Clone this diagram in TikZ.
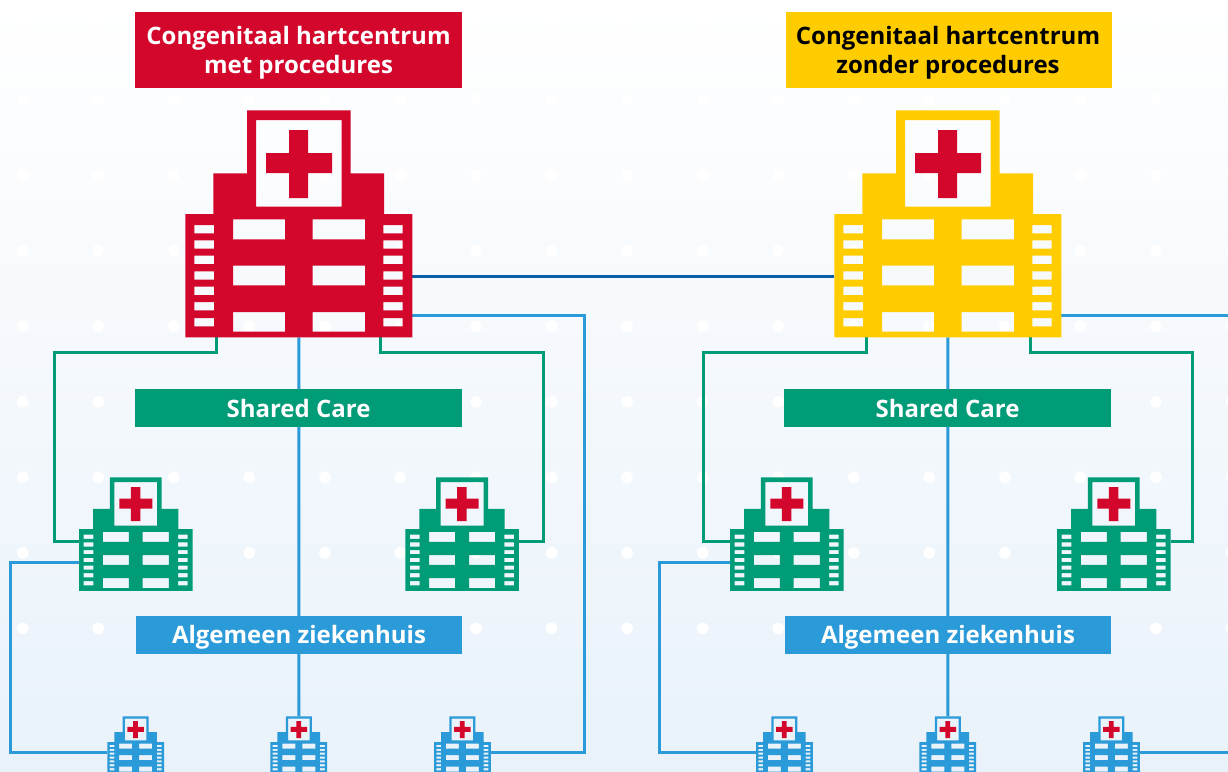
\documentclass[tikz,border=0pt]{standalone}
\usepackage{fontspec}
\setmainfont{Open Sans}
\usetikzlibrary{backgrounds}
\definecolor{cred}{HTML}{D2072B}
\definecolor{cyel}{HTML}{FFCC00}
\definecolor{cgrn}{HTML}{009B77}
\definecolor{cblu}{HTML}{2A9AD8}
\definecolor{cdrk}{HTML}{0B5EA8}
\definecolor{cbot}{HTML}{E9F2FA}
\newcommand{\dn}[2]{\raisebox{-#1pt}[\height][\depth]{#2}}
\tikzset{
  banner/.style={inner sep=0pt,outer sep=0pt,minimum width=327pt,align=center,font=\fontsize{24}{29}\selectfont\bfseries},
  band/.style={banner,minimum height=38pt},
  anchorbox/.style={inner sep=0pt,outer sep=0pt,minimum width=#1*227pt,minimum height=#1*227pt},
  conn/.style={line width=3pt,line join=miter},
  greenlink/.style={conn,draw=cgrn},
  bluelink/.style={conn,draw=cblu},
  darklink/.style={conn,draw=cdrk},
}
% name, left, top, scale, colour
\newcommand{\hosp}[5]{%
  \node[anchorbox=#4,anchor=north west] (#1) at (#2,#3) {};
  \begin{scope}[shift={(#2,#3)},scale=#4]
    \fill[#5,even odd rule]
      (0,103.7)--(28,103.7)--(28,63)--(61.7,63)--(61.7,0)--(165.4,0)--(165.4,63)--(198.7,63)--(198.7,103.7)--(227,103.7)--(227,227)--(0,227)--cycle
      (70.7,9.7) rectangle (156.4,96.4)
      (47.7,109) rectangle (99.7,129) (127.4,109) rectangle (179.7,129)
      (47.7,155.4) rectangle (99.7,175) (127.4,155.4) rectangle (179.7,175)
      (47.7,201.7) rectangle (99.7,221.4) (127.4,201.7) rectangle (179.7,221.4)
      (9,114.7) rectangle (28.7,123) (198,114.7) rectangle (217.4,123)
      (9,130) rectangle (28.7,138.4) (198,130) rectangle (217.4,138.4)
      (9,145.4) rectangle (28.7,153.7) (198,145.4) rectangle (217.4,153.7)
      (9,161) rectangle (28.7,169.4) (198,161) rectangle (217.4,169.4)
      (9,176.4) rectangle (28.7,184.7) (198,176.4) rectangle (217.4,184.7)
      (9,191.7) rectangle (28.7,200) (198,191.7) rectangle (217.4,200)
      (9,207.7) rectangle (28.7,216) (198,207.7) rectangle (217.4,216);
    \fill[cred] (103.7,19.7)--(122.7,19.7)--(122.7,42.7)--(146.7,42.7)--(146.7,62.7)--(122.7,62.7)--(122.7,87.7)--(103.7,87.7)--(103.7,62.7)--(80.7,62.7)--(80.7,42.7)--(103.7,42.7)--cycle;
  \end{scope}}
\begin{document}
\begin{tikzpicture}[x=1pt,y=-1pt]
\useasboundingbox (0,0) rectangle (1228,771);
\begin{scope}[on background layer]
  \path[shade,top color=white,bottom color=cbot] (0,0) rectangle (1228,771);
  \foreach \i in {0,...,16}{\foreach \j in {1,...,9}{
    \fill[white] (22.7+75.55*\i,24+75.55*\j-75.55) circle (5.8);
  }}
\end{scope}
\clip (0,0) rectangle (1228,771);

\node[banner,fill=cred,text=white,minimum height=76pt,minimum width=327pt] (hdrA) at (298.5,50) {\dn{2.5}{Congenitaal hartcentrum}\\\dn{2.5}{met procedures}};
\node[banner,fill=cyel,text=black,minimum height=76pt,minimum width=326pt] (hdrB) at (949,50) {\dn{2.5}{Congenitaal hartcentrum}\kern2pt\\\dn{2.5}{zonder procedures}\kern2pt};

\hosp{bigA}{185.3}{110.3}{1}{cred}
\hosp{bigB}{834.3}{110.3}{1}{cyel}
\hosp{gA}{79}{477.3}{0.5}{cgrn}
\hosp{gB}{405.3}{477.3}{0.5}{cgrn}
\hosp{gC}{730}{477.3}{0.5}{cgrn}
\hosp{gD}{1057}{477.3}{0.5}{cgrn}
\hosp{sA}{107.3}{716.3}{0.25}{cblu}
\hosp{sB}{270.4}{716.3}{0.25}{cblu}
\hosp{sC}{434}{716.3}{0.25}{cblu}
\hosp{sD}{756}{716.3}{0.25}{cblu}
\hosp{sE}{919.4}{716.3}{0.25}{cblu}
\hosp{sF}{1083}{716.3}{0.25}{cblu}

\node[band,fill=cgrn,text=white] (scA) at (298.5,408) {\dn{0.3}{Shared Care}};
\node[band,fill=cgrn,text=white] (scB) at (947.5,408) {\dn{0.3}{Shared Care}};
\node[band,fill=cblu,text=white,minimum width=326pt] (azA) at (299,635) {\dn{2.2}{Algemeen ziekenhuis}};
\node[band,fill=cblu,text=white,minimum width=326pt] (azB) at (948,635) {\dn{2.2}{Algemeen ziekenhuis}};

\coordinate (rightA) at (1228,315);
\coordinate (rightB) at (1228,752);
\begin{scope}[on background layer]
  \draw[darklink] (bigA.south east |- 0,276) -- (bigB.south west |- 0,276);
  % left group
  \draw[greenlink] (216.5,337) -- (216.5,352) -- (54,352) -- (54,541) -- (gA.west |- 0,541);
  \draw[greenlink] (380.5,337) -- (380.5,352) -- (543,352) -- (543,541) -- (gB.east |- 0,541);
  \draw[bluelink] (bigA.south) -- (sB.north);
  \draw[bluelink] (bigA.east |- 0,315) -- (584,315) -- (584,752) -- (sC.east |- 0,752);
  \draw[bluelink] (gA.west |- 0,562) -- (10,562) -- (10,752) -- (sA.west |- 0,752);
  % right group
  \draw[greenlink] (866,337) -- (866,352) -- (703,352) -- (703,541) -- (gC.west |- 0,541);
  \draw[greenlink] (1030,337) -- (1030,352) -- (1192,352) -- (1192,541) -- (gD.east |- 0,541);
  \draw[bluelink] (bigB.south) -- (sE.north);
  \draw[bluelink] (bigB.east |- 0,315) -- (rightA);
  \draw[bluelink] (gC.west |- 0,562) -- (659,562) -- (659,752) -- (sD.west |- 0,752);
  \draw[bluelink] (sF.east |- 0,752) -- (rightB);
\end{scope}
\end{tikzpicture}
\end{document}
